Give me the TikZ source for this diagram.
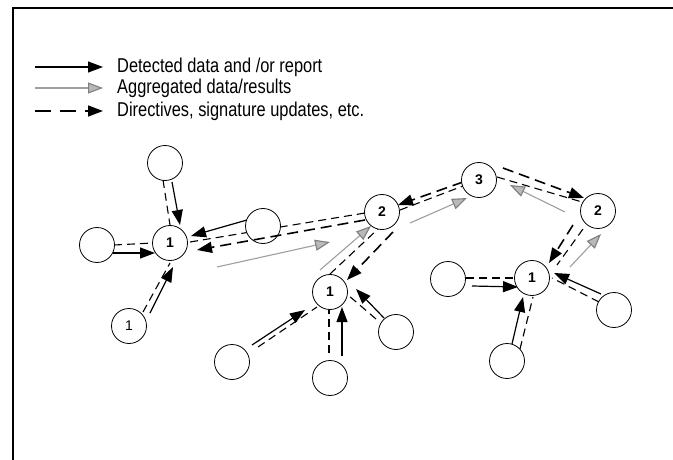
\documentclass[tikz,border=0pt]{standalone}
\usepackage{fontspec}
\setmainfont{Liberation Sans}
\newfontfamily\legfont{Liberation Sans}[FakeStretch=0.82]
\usetikzlibrary{arrows.meta,calc,backgrounds}
\begin{document}
\begin{tikzpicture}[x=1pt,y=-1pt,
  sensor/.style={circle,draw,line width=0.8pt,minimum size=35pt,inner sep=0pt,
    fill=white,font=\bfseries\fontsize{14}{14}\selectfont},
  plainlabel/.style={font=\fontsize{14}{14}\selectfont},
  detect/.style={line width=1.2pt,-{Triangle[length=15pt,width=11pt]}},
  aggr/.style={line width=1.1pt,draw=gray!75,
    -{Triangle[length=15pt,width=11pt,fill=gray!55,color=gray]}},
  relay/.style={line width=1.1pt,dash pattern=on 8pt off 5pt},
  order/.style={line width=1.6pt,dash pattern=on 11pt off 6pt,
    -{Triangle[length=15pt,width=11pt]}},
  legend/.style={anchor=west,inner sep=0pt,font=\legfont\fontsize{20}{22}\selectfont}]

\useasboundingbox (0,0) rectangle (673,460);

% frame
\draw[line width=1.2pt] (13,460) -- (13,8) -- (673,8);

% legend
\coordinate (k1s) at (35,67);  \coordinate (k1e) at (103,67);
\coordinate (k2s) at (35,88);  \coordinate (k2e) at (103,88);
\coordinate (k3s) at (35,111); \coordinate (k3e) at (103,111);
\draw[detect] (k1s) -- (k1e);
\draw[aggr] (k2s) -- (k2e);
\draw[order,dash pattern=on 16pt off 9pt] (k3s) -- (k3e);
\node[legend] (k1t) at (117,67) {Detected data and /or report};
\node[legend] (k2t) at (117,88) {Aggregated data/results};
\node[legend] (k3t) at (117,111) {Directives, signature updates, etc.};

% sensors and aggregation levels
\node[sensor] (T)   at (165,163) {};
\node[sensor] (L)   at (97,245)  {};
\node[sensor] (A1)  at (170,243) {1};
\node[sensor,plainlabel] (BL) at (129,326) {1};
\node[sensor] (M)   at (263,226) {};
\node[sensor] (B2)  at (382,212) {2};
\node[sensor] (C3)  at (479,180) {3};
\node[sensor] (C2)  at (598,211) {2};
\node[sensor] (B1)  at (330,292) {1};
\node[sensor] (BLL) at (232,362) {};
\node[sensor] (BB)  at (330,378) {};
\node[sensor] (BR)  at (396,332) {};
\node[sensor] (CL)  at (448,279) {};
\node[sensor] (C1)  at (532,278) {1};
\node[sensor] (CR)  at (614,310) {};
\node[sensor] (CB)  at (507,361) {};

\begin{scope}[on background layer]
  \fill[white] (0,0) rectangle (673,460);
  % first cluster
  \draw[detect] ($(T)+(7,19)$) -- ($(A1)+(10,-18)$);
  \draw[relay]  ($(T)+(-2,17)$) -- ($(A1)+(0,-18)$);
  \draw[relay]  ($(L)+(17,0)$) -- ($(A1)+(-17,0)$);
  \draw[detect] ($(L)+(16,8)$) -- ($(A1)+(-15,10)$);
  \draw[relay]  ($(BL)+(14,-14)$) -- ($(A1)+(0,20)$);
  \draw[detect] ($(BL)+(21,-13)$) -- ($(A1)+(3,24)$);
  \draw[detect] ($(M)+(-16,-6)$) -- ($(A1)+(21,-7)$);
  \draw[relay]  ($(A1)+(20,-1)$) -- ($(B2)+(-17,1)$);
  \draw[aggr]   ($(A1)+(47,24)$) -- ($(B2)+(-52,30)$);
  % second cluster
  \draw[aggr]   ($(B1)+(-10,-22)$) -- ($(B2)+(-11,14)$);
  \draw[relay]  ($(B1)+(0,-18)$) -- ($(B2)+(-4,17)$);
  \draw[order]  ($(B2)+(11,20)$) -- ($(B1)+(17,-12)$);
  \draw[detect] ($(BLL)+(20,-17)$) -- ($(B1)+(-25,18)$);
  \draw[relay]  ($(BLL)+(26,-15)$) -- ($(B1)+(-13,15)$);
  \draw[relay]  ($(BB)+(-1,-25)$) -- ($(B1)+(-1,18)$);
  \draw[detect] ($(BB)+(12,-22)$) -- ($(B1)+(12,15)$);
  \draw[detect] ($(BR)+(-12,-14)$) -- ($(B1)+(26,-3)$);
  \draw[relay]  ($(BR)+(-20,-13)$) -- ($(B1)+(18,3)$);
  % top level links
  \draw[order]  ($(C3)+(-16,2)$) -- ($(B2)+(16,-7)$);
  \draw[relay]  ($(B2)+(18,-2)$) -- ($(C3)+(-16,6)$);
  \draw[aggr]   ($(B2)+(28,11)$) -- ($(C3)+(-12,18)$);
  \draw[order]  ($(C3)+(24,-12)$) -- ($(C2)+(-14,-13)$);
  \draw[relay]  ($(C3)+(18,-3)$) -- ($(C2)+(-16,-9)$);
  \draw[aggr]   ($(C2)+(-33,1)$) -- ($(C3)+(31,5)$);
  \draw[order]  ($(C2)+(-25,14)$) -- ($(C1)+(17,-15)$);
  \draw[relay]  ($(C2)+(-15,18)$) -- ($(C1)+(25,-13)$);
  \draw[aggr]   ($(C1)+(38,-11)$) -- ($(C2)+(3,23)$);
  % third cluster
  \draw[relay]  ($(CL)+(18,-1)$) -- ($(C1)+(-17,0)$);
  \draw[detect] ($(CL)+(24,7)$) -- ($(C1)+(-14,9)$);
  \draw[detect] ($(CR)+(-13,-16)$) -- ($(C1)+(22,-5)$);
  \draw[relay]  ($(CR)+(-15,-8)$) -- ($(C1)+(20,0)$);
  \draw[detect] ($(CB)+(5,-17)$) -- ($(C1)+(-9,19)$);
  \draw[relay]  ($(CB)+(13,-12)$) -- ($(C1)+(1,19)$);
\end{scope}

% directive crossing over the relay sensor
\draw[order] ($(B2)+(-17,8)$) -- ($(A1)+(27,7)$);
\end{tikzpicture}
\end{document}
